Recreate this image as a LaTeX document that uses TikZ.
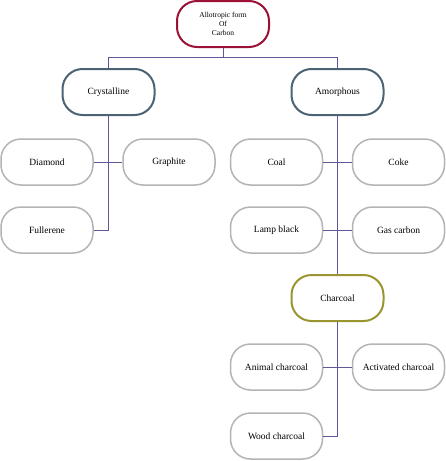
\documentclass[tikz,border=0pt]{standalone}
\usepackage{fontspec}
\setmainfont{Liberation Serif}
\definecolor{topred}{HTML}{9B1236}
\definecolor{slate}{HTML}{4A6476}
\definecolor{olive}{HTML}{9A9530}
\definecolor{boxgray}{HTML}{B4B4B4}
\definecolor{linecol}{HTML}{5E5896}
\tikzset{
  base/.style={rounded corners=20pt, minimum width=92pt, minimum height=46pt, inner sep=1pt, align=center, fill=white, font=\fontsize{9.5}{11}\selectfont},
  leaf/.style={base, draw=boxgray, line width=1.5pt},
  mid/.style={base, draw=slate, line width=2pt},
  topbox/.style={base, draw=topred, line width=2pt, font=\fontsize{7.5}{9}\selectfont},
  charbox/.style={base, draw=olive, line width=2pt},
  conn/.style={draw=linecol, line width=0.9pt}
}
\begin{document}
\begin{tikzpicture}[x=1pt,y=-1pt]
\useasboundingbox (0,0) rectangle (445,461);
\node[topbox] (top) at (223,24) {Allotropic form\\Of\\Carbon};
\node[mid] (cry) at (108.5,92) {Crystalline};
\node[mid] (amo) at (337.5,92) {Amorphous};
\node[leaf] (dia) at (47,162) {Diamond};
\node[leaf] (gra) at (169,162) {Graphite};
\node[leaf] (ful) at (47,230) {Fullerene};
\node[leaf] (coa) at (276.5,162) {Coal};
\node[leaf] (cok) at (398.5,162) {Coke};
\node[leaf] (lam) at (276.5,230) {Lamp black};
\node[leaf] (gas) at (398.5,230) {Gas carbon};
\node[charbox] (cha) at (337.5,298) {Charcoal};
\node[leaf] (ani) at (276.5,367) {Animal charcoal};
\node[leaf] (act) at (398.5,367) {Activated charcoal};
\node[leaf] (woo) at (276.5,436) {Wood charcoal};
\coordinate (bus) at (223,57);
\begin{scope}[on background layer/.try]
\end{scope}
\draw[conn] (top.south) -- (bus);
\draw[conn] (bus) -| (cry.north);
\draw[conn] (bus) -| (amo.north);
\draw[conn] (cry.south) |- (ful.east);
\draw[conn] (dia.east) -- (gra.west);
\draw[conn] (amo.south) -- (cha.north);
\draw[conn] (coa.east) -- (cok.west);
\draw[conn] (lam.east) -- (gas.west);
\draw[conn] (cha.south) |- (woo.east);
\draw[conn] (ani.east) -- (act.west);
\end{tikzpicture}
\end{document}
